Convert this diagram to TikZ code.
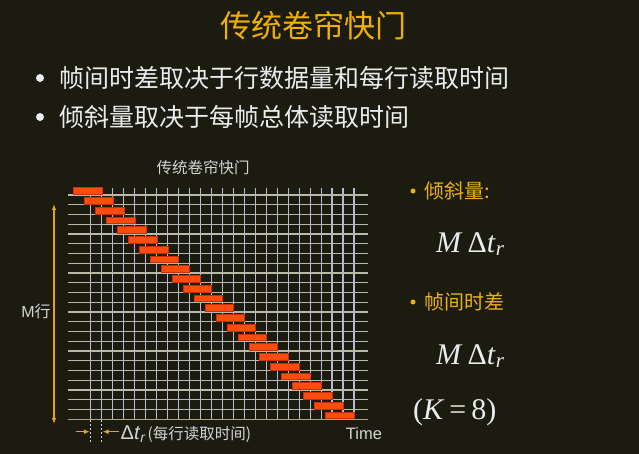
\documentclass[tikz,border=0pt]{standalone}
\usepackage{fontspec}
\setmainfont{Liberation Sans}
\newfontfamily\cjk{Noto Sans CJK SC}
\newfontfamily\tms{Liberation Serif}
\usetikzlibrary{arrows.meta}
\definecolor{bg}{RGB}{28,27,16}
\definecolor{gold}{RGB}{240,176,0}
\definecolor{goldtxt}{RGB}{236,176,20}
\definecolor{arrowor}{RGB}{232,162,30}
\definecolor{txtw}{RGB}{236,236,236}
\definecolor{txtg}{RGB}{212,212,212}
\definecolor{vline}{RGB}{185,185,215}
\definecolor{hline}{RGB}{185,185,170}
\definecolor{hlineo}{RGB}{165,165,120}
\definecolor{barfill}{RGB}{252,76,14}
\definecolor{bardraw}{RGB}{200,48,10}
\tikzset{
  titletext/.style={text=gold, font=\cjk\fontsize{31}{31}\selectfont, inner sep=0pt},
  bullettext/.style={text=txtw, font=\cjk\fontsize{25}{25}\selectfont, anchor=west, inner sep=0pt},
  bulletdot/.style={circle, fill=txtw, minimum size=8pt, inner sep=0pt},
  sidetext/.style={text=goldtxt, font=\cjk\fontsize{20}{20}\selectfont, anchor=west, inner sep=0pt},
  sidedot/.style={circle, fill=goldtxt, minimum size=5pt, inner sep=0pt},
  mathtext/.style={text=txtw, font=\tms\fontsize{30}{30}\selectfont, anchor=west, inner sep=0pt},
  labeltext/.style={text=txtg, inner sep=0pt},
  vgrid/.style={draw=vline, line width=1.15pt},
  hgrid/.style={draw=hline, line width=1.15pt},
  hgrido/.style={draw=hlineo, line width=1.3pt},
  bar/.style={fill=barfill, draw=bardraw, line width=0.6pt},
  orarrow/.style={draw=arrowor, line width=1.3pt},
  dashmark/.style={draw=txtg, dashed, dash pattern=on 2pt off 2pt, line width=0.8pt},
}
\begin{document}
\begin{tikzpicture}[x=1pt,y=-1pt]
\fill[bg] (0,0) rectangle (639,454);
\useasboundingbox (0,0) rectangle (639,454);

% title and bullets
\node[titletext] (title) at (313,26) {传统卷帘快门};
\node[bulletdot] (b1) at (40,78) {};
\node[bullettext] (t1) at (59,78) {帧间时差取决于行数据量和每行读取时间};
\node[bulletdot] (b2) at (40,117) {};
\node[bullettext] (t2) at (59,117) {倾斜量取决于每帧总体读取时间};

% subtitle
\node[labeltext, font=\cjk\fontsize{15.5}{15.5}\selectfont] (sub) at (203,168) {传统卷帘快门};

% grid
\foreach \i in {0,...,24} {
  \draw[vgrid] ({90.7+10.97*\i},187.7) -- ({90.7+10.97*\i},419.3);
}
\foreach \j in {0,...,22} {
  \draw[hgrid] (67.7,{195+9.75*\j}) -- (367.7,{195+9.75*\j});
}
\draw[hgrido] (67.7,{195+9.75*23}) -- (367.7,{195+9.75*23});
% bars
\foreach \n in {0,...,23} {
  \draw[bar] ({73.3+10.97*\n},{187.6+9.75*\n}) rectangle ({102+10.97*\n},{194.4+9.75*\n});
}

% vertical M arrow
\coordinate (mtop) at (54,204);
\coordinate (mbot) at (54,424);
\draw[orarrow, {Latex[length=6pt,width=4.5pt]}-{Latex[length=6pt,width=4.5pt]}] (mtop) -- (mbot);
\node[labeltext, font=\fontsize{16}{16}\selectfont] (mlab) at (36,311) {M{\cjk 行}};

% delta t marks
\coordinate (d1t) at (90.7,420);
\coordinate (d1b) at (90.7,444);
\coordinate (d2t) at (101.7,420);
\coordinate (d2b) at (101.7,444);
\draw[dashmark] (d1t) -- (d1b);
\draw[dashmark] (d2t) -- (d2b);
\coordinate (a1s) at (76,431.7);
\coordinate (a1e) at (89.8,431.7);
\coordinate (a2s) at (118.5,431.7);
\coordinate (a2e) at (102.6,431.7);
\draw[orarrow, line width=1.2pt, -{Latex[length=6pt,width=5pt]}] (a1s) -- (a1e);
\draw[orarrow, line width=1.2pt, -{Latex[length=6pt,width=5pt]}] (a2s) -- (a2e);
\node[labeltext, anchor=west] (dtlab) at (120.5,434) {{\fontsize{20}{20}\selectfont Δ\textit{t}\textsubscript{\textit{r}}}\,{\cjk\fontsize{15.5}{15.5}\selectfont (每行读取时间)}};
\node[labeltext, font=\fontsize{16.5}{16.5}\selectfont] (time) at (364,434) {Time};

% right side
\node[sidedot] (s1) at (413,191) {};
\node[sidetext] (st1) at (424,191) {倾斜量:};
\node[mathtext] (m1) at (436,244) {\textit{M}\,Δ\textit{t}\textsubscript{\textit{r}}};
\node[sidedot] (s2) at (413,302) {};
\node[sidetext] (st2) at (424,302) {帧间时差};
\node[mathtext] (m2) at (436,356) {\textit{M}\,Δ\textit{t}\textsubscript{\textit{r}}};
\node[mathtext] (k) at (413,412) {(\textit{K}\,=\,8)};
\end{tikzpicture}
\end{document}
